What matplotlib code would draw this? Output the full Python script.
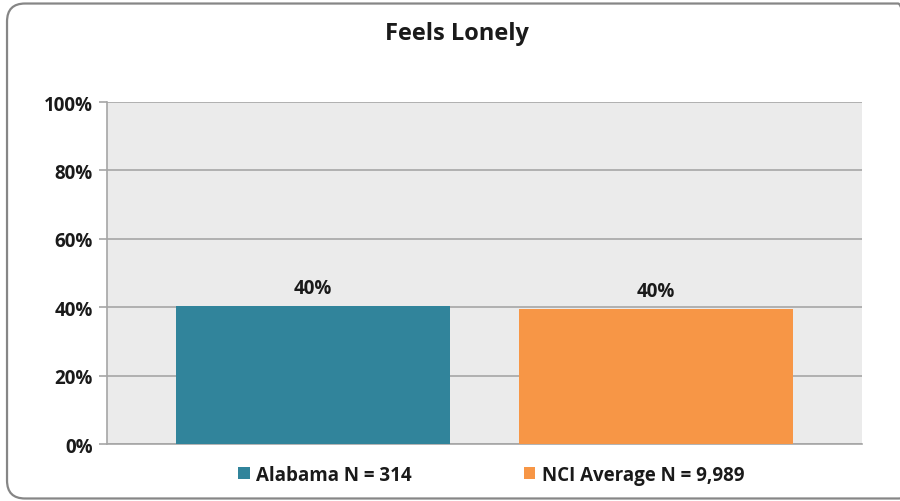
import matplotlib.pyplot as plt
from matplotlib.patches import FancyBboxPatch, Patch

plt.rcParams['font.family'] = ['Open Sans', 'DejaVu Sans']

series = ['Alabama N = 314', 'NCI Average N = 9,989']
values = [40.4, 39.6]
labels = ['40%', '40%']
colors = ['#31849b', '#f79646']
yticks = [0, 20, 40, 60, 80, 100]

fig = plt.figure(figsize=(9, 5.02), dpi=100)
fig.patch.set_facecolor('white')

# rounded chart border (right edge runs off the picture)
border = FancyBboxPatch((0.0078, 0.005), 1.01, 0.986, boxstyle='round,pad=0,rounding_size=0.02',
                        transform=fig.transFigure, facecolor='none', edgecolor='#868686',
                        linewidth=1.6, mutation_aspect=1.8, clip_on=False)
fig.patches.append(border)

ax = fig.add_axes([0.1189, 0.1135, 0.8389, 0.6813])
ax.set_facecolor('#ebebeb')

x = list(range(len(values)))
ax.bar(x, values, width=0.8, color=colors, zorder=3)
for xi, v, lab in zip(x, values, labels):
    ax.text(xi, v + 2.2, lab, ha='center', va='bottom', fontsize=13.5, fontweight='bold', color='#1a1a1a')

ax.set_xlim(-0.6, 1.6)
ax.set_ylim(0, 100)
ax.set_yticks(yticks)
ax.set_yticklabels([f'{t}%' for t in yticks], fontsize=13.5, fontweight='bold', color='#1a1a1a')
ax.set_xticks([])
ax.yaxis.grid(True, color='#a6a6a6', linewidth=1.2, zorder=0)
ax.tick_params(axis='y', length=6, color='#a6a6a6', width=1.2, pad=4)
for s in ['top', 'right']:
    ax.spines[s].set_visible(False)
for s in ['left', 'bottom']:
    ax.spines[s].set_color('#a6a6a6')
    ax.spines[s].set_linewidth(1.2)

fig.text(0.508, 0.932, 'Feels Lonely', ha='center', va='center', fontsize=17, fontweight='bold', color='#1a1a1a')

handles = [Patch(facecolor=c) for c in colors]
leg = fig.legend(handles, series, loc='center', bbox_to_anchor=(0.546, 0.052), ncol=2, frameon=False,
                 prop={'weight': 'bold', 'size': 13.5}, handlelength=0.6, handleheight=0.6,
                 handletextpad=0.35, columnspacing=6.0)
for t in leg.get_texts():
    t.set_color('#1a1a1a')

fig.savefig('out.png', dpi=100)
